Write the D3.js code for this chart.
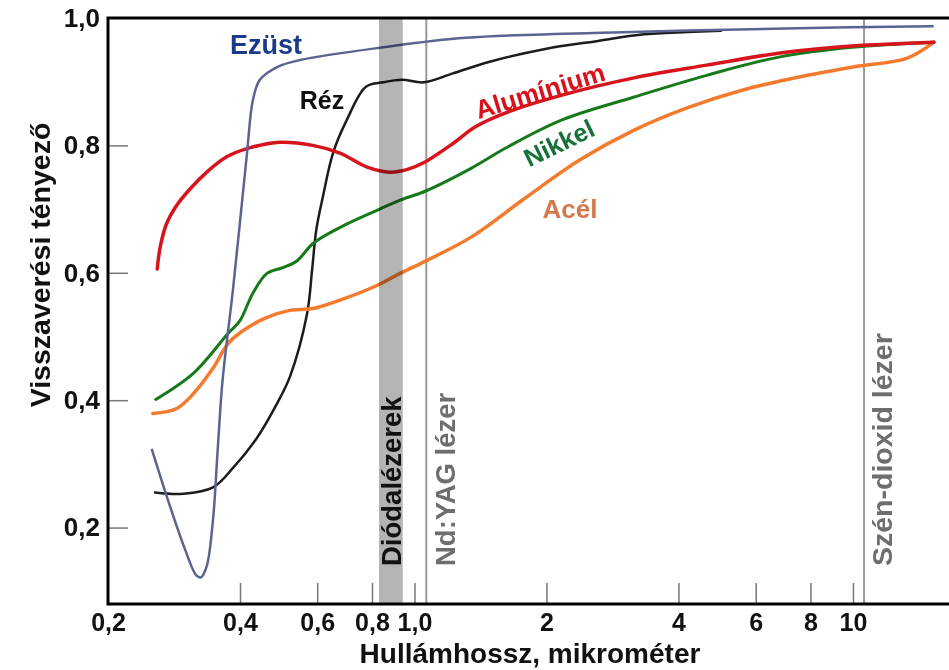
<!DOCTYPE html>
<html>
<head>
<meta charset="utf-8">
<script src="https://cdn.jsdelivr.net/npm/d3@7"></script>
<style>
    body { margin: 0; background: #fff; }
    text { font-family: "Liberation Sans", Arial, sans-serif; font-weight: bold; }
</style>
</head>
<body>
<svg id="chart" width="949" height="670"></svg>
<script>
// wavelength (micrometer) / reflectance pairs
var ezust = [[0.252, 0.322], [0.275, 0.24], [0.300, 0.165], [0.318, 0.125], [0.326, 0.122], [0.336, 0.140],
    [0.347, 0.211], [0.356, 0.325], [0.365, 0.431], [0.386, 0.577], [0.415, 0.788], [0.428, 0.871],
    [0.444, 0.903], [0.486, 0.923], [0.548, 0.934], [0.848, 0.954], [1.31, 0.969], [3.12, 0.978],
    [7.45, 0.984], [15.2, 0.987]];
var rez = [[0.256, 0.255], [0.297, 0.253], [0.347, 0.263], [0.386, 0.294], [0.4375, 0.341], [0.486, 0.395],
    [0.520, 0.437], [0.569, 0.536], [0.584, 0.604], [0.597, 0.667], [0.618, 0.719], [0.652, 0.788],
    [0.701, 0.840], [0.775, 0.892], [0.848, 0.899], [0.937, 0.903], [1.05, 0.899], [1.224, 0.913],
    [1.478, 0.931], [1.974, 0.951], [2.62, 0.964], [3.3, 0.974], [4.2, 0.978], [5.0, 0.980]];
var aluminium = [[0.259, 0.606], [0.263, 0.640], [0.272, 0.677], [0.287, 0.706], [0.308, 0.732], [0.336, 0.758],
    [0.373, 0.782], [0.415, 0.795], [0.494, 0.805], [0.586, 0.800], [0.676, 0.788], [0.78, 0.766],
    [0.88, 0.758], [0.96, 0.762], [1.057, 0.774], [1.224, 0.803], [1.374, 0.829], [1.626, 0.852],
    [2.17, 0.879], [3.17, 0.906], [4.64, 0.926], [6.82, 0.945], [9.95, 0.956], [15.3, 0.962]];
var nikkel = [[0.257, 0.401], [0.313, 0.442], [0.376, 0.505], [0.40, 0.525], [0.428, 0.568], [0.461, 0.599],
    [0.501, 0.608], [0.540, 0.619], [0.587, 0.646], [0.676, 0.671], [0.821, 0.698], [0.927, 0.714],
    [1.057, 0.728], [1.346, 0.764], [1.626, 0.797], [2.17, 0.840], [3.17, 0.876], [4.64, 0.910],
    [6.82, 0.939], [9.95, 0.954], [15.3, 0.962]];
var acel = [[0.253, 0.379], [0.287, 0.387], [0.313, 0.410], [0.347, 0.450], [0.376, 0.489], [0.406, 0.509],
    [0.461, 0.530], [0.520, 0.541], [0.587, 0.544], [0.676, 0.557], [0.821, 0.580], [0.927, 0.599],
    [1.057, 0.618], [1.346, 0.656], [1.786, 0.717], [2.38, 0.777], [3.17, 0.824], [4.23, 0.860],
    [5.61, 0.887], [7.49, 0.907], [10.0, 0.923], [13.3, 0.937], [15.3, 0.962]];

var xTicks = [0.2, 0.4, 0.6, 0.8, 1.0, 2, 4, 6, 8, 10];
var xTickLabels = ["0,2", "0,4", "0,6", "0,8", "1,0", "2", "4", "6", "8", "10"];
var yTicks = [0.2, 0.4, 0.6, 0.8, 1.0];
var yTickLabels = ["0,2", "0,4", "0,6", "0,8", "1,0"];

var diodeBand = [0.83, 0.94];
var laserLines = [1.064, 10.6];

(function () {
    'use strict';
    var series = [
        {name: "Réz", data: rez, color: "#1c1c1c", width: 2.5},
        {name: "Acél", data: acel, color: "#f47b2e", width: 3.5},
        {name: "Nikkel", data: nikkel, color: "#177a1a", width: 3},
        {name: "Alumínium", data: aluminium, color: "#d7141c", width: 3.5},
        {name: "Ezüst", data: ezust, color: "#5b6391", width: 2.5}
    ];

    var svg = d3.select("#chart");
    var pLeft = 108, pRight = 949, pTop = 18, pBottom = 604;
    var font = "'Liberation Sans', Arial, sans-serif";

    var x = d3.scaleLog().domain([0.2, 16.56]).range([pLeft, pRight]);
    var y = d3.scaleLinear().domain([0.08, 1.0]).range([pBottom, pTop]);

    // laser wavelength markers
    svg.selectAll(".laser")
        .data(laserLines)
        .enter().append("line")
        .attr("x1", function (d) { return x(d); })
        .attr("x2", function (d) { return x(d); })
        .attr("y1", pTop)
        .attr("y2", pBottom)
        .attr("stroke", "#9a9a9a")
        .attr("stroke-width", 2);

    var line = d3.line()
        .x(function (d) { return x(d[0]); })
        .y(function (d) { return y(d[1]); })
        .curve(d3.curveCatmullRom.alpha(0.5));

    svg.selectAll(".curve")
        .data(series)
        .enter().append("path")
        .attr("class", "curve")
        .attr("d", function (d) { return line(d.data); })
        .attr("fill", "none")
        .attr("stroke", function (d) { return d.color; })
        .attr("stroke-width", function (d) { return d.width; })
        .attr("stroke-linecap", "round");

    // diode band darkens the curves under it
    svg.append("rect")
        .attr("x", x(diodeBand[0]))
        .attr("y", pTop)
        .attr("width", x(diodeBand[1]) - x(diodeBand[0]))
        .attr("height", pBottom - pTop)
        .attr("fill", "#b4b4b4")
        .style("mix-blend-mode", "multiply");

    // axes
    var xAxis = d3.axisBottom(x)
        .tickValues(xTicks)
        .tickSizeInner(-21)
        .tickSizeOuter(0)
        .tickPadding(9)
        .tickFormat(function (d, i) { return xTickLabels[i]; });
    var gx = svg.append("g").attr("transform", "translate(0," + pBottom + ")").call(xAxis);
    gx.select(".domain").remove();
    gx.selectAll(".tick line").attr("stroke", "#777").attr("stroke-width", 1.5)
        .filter(function (d) { return d === 0.2; }).remove();
    gx.selectAll(".tick text").attr("font-size", 25).attr("fill", "#111")
        .attr("font-family", font).attr("font-weight", "bold");

    var yAxis = d3.axisLeft(y)
        .tickValues(yTicks)
        .tickSizeInner(-20)
        .tickSizeOuter(0)
        .tickPadding(8)
        .tickFormat(function (d, i) { return yTickLabels[i]; });
    var gy = svg.append("g").attr("transform", "translate(" + pLeft + ",0)").call(yAxis);
    gy.select(".domain").remove();
    gy.selectAll(".tick line").attr("stroke", "#777").attr("stroke-width", 1.5)
        .filter(function (d) { return d === 1.0; }).remove();
    gy.selectAll(".tick text").attr("font-size", 26).attr("fill", "#111")
        .attr("font-family", font).attr("font-weight", "bold");

    // frame: left, bottom and top
    svg.append("path")
        .attr("d", "M" + pRight + "," + pTop + "H" + pLeft + "V" + pBottom + "H" + pRight)
        .attr("fill", "none")
        .attr("stroke", "#000")
        .attr("stroke-width", 3);

    // axis titles
    svg.append("text")
        .attr("x", 530)
        .attr("y", 663)
        .attr("text-anchor", "middle")
        .attr("font-size", 28)
        .attr("fill", "#111")
        .text("Hullámhossz, mikrométer");
    svg.append("text")
        .attr("transform", "translate(50,265) rotate(-90)")
        .attr("text-anchor", "middle")
        .attr("font-size", 28.5)
        .attr("fill", "#111")
        .text("Visszaverési tényező");

    // vertical labels of the lasers
    var vLabels = [
        {text: "Diódalézerek", at: 401, size: 27.5, color: "#111"},
        {text: "Nd:YAG lézer", at: 455, size: 27.5, color: "#6e6e6e"},
        {text: "Szén-dioxid lézer", at: 892, size: 28.5, color: "#6e6e6e"}
    ];
    svg.selectAll(".vlabel")
        .data(vLabels)
        .enter().append("text")
        .attr("transform", function (d) { return "translate(" + d.at + ",566) rotate(-90)"; })
        .attr("font-size", function (d) { return d.size; })
        .attr("fill", function (d) { return d.color; })
        .text(function (d) { return d.text; });

    // curve names
    var names = [
        {text: "Ezüst", x: 266, y: 45, rot: 0, size: 27, color: "#1b3a8c"},
        {text: "Réz", x: 322, y: 100, rot: 0, size: 25, color: "#111"},
        {text: "Alumínium", x: 540, y: 91, rot: -17, size: 26, color: "#d8111b"},
        {text: "Nikkel", x: 559, y: 143, rot: -26, size: 25.5, color: "#19703a"},
        {text: "Acél", x: 570, y: 209, rot: 0, size: 26, color: "#d27a4c"}
    ];
    svg.selectAll(".name")
        .data(names)
        .enter().append("text")
        .attr("transform", function (d) { return "translate(" + d.x + "," + d.y + ") rotate(" + d.rot + ")"; })
        .attr("text-anchor", "middle")
        .attr("dominant-baseline", "central")
        .attr("font-size", function (d) { return d.size; })
        .attr("fill", function (d) { return d.color; })
        .text(function (d) { return d.text; });
})();
</script>
</body>
</html>
